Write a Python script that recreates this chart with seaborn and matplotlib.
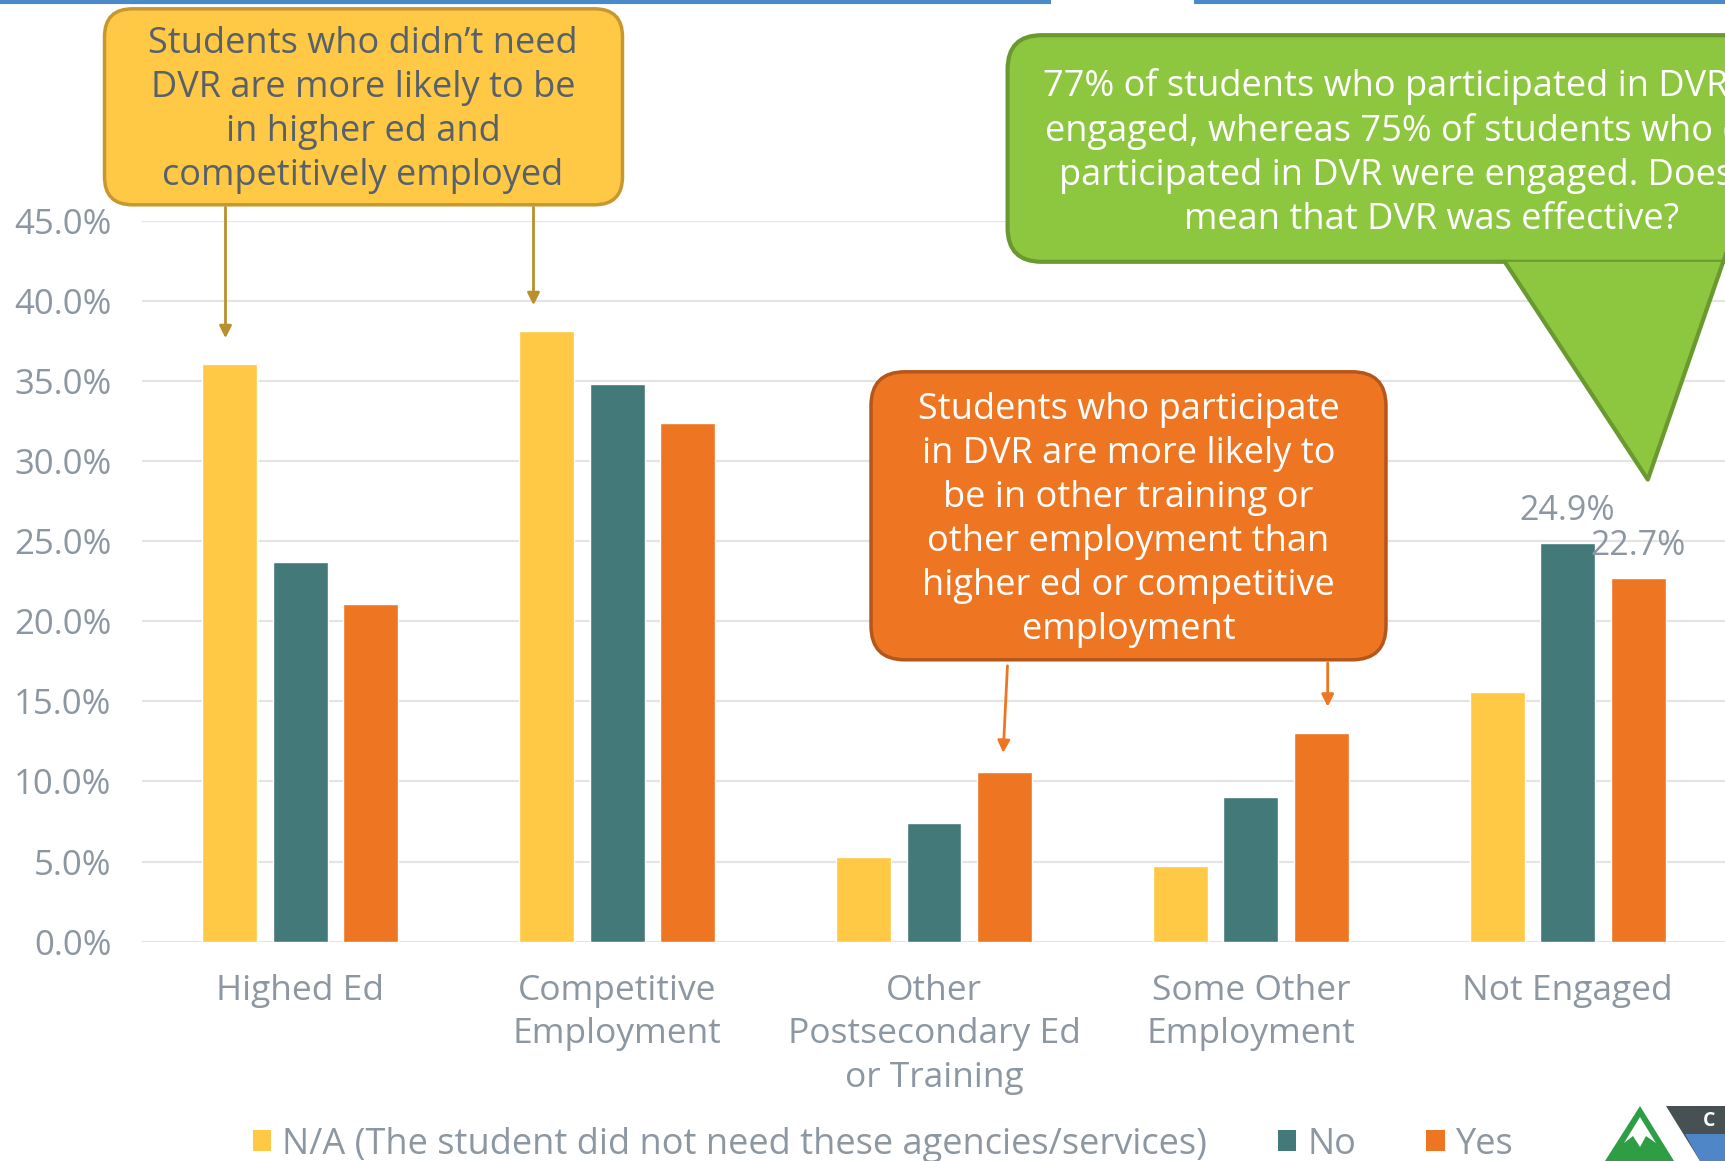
import matplotlib.pyplot as plt
import seaborn as sns
import pandas as pd
from matplotlib.patches import FancyBboxPatch, Polygon, Patch

# Share of students by post-school outcome, split by DVR participation
categories = ['Highed Ed', 'Competitive\nEmployment', 'Other\nPostsecondary Ed\nor Training',
              'Some Other\nEmployment', 'Not Engaged']
groups = ['N/A (The student did not need these agencies/services)', 'No', 'Yes']
na_vals = [36.1, 38.1, 5.3, 4.7, 15.6]
no_vals = [23.7, 34.8, 7.4, 9.0, 24.9]
yes_vals = [21.1, 32.4, 10.6, 13.0, 22.7]
yticks = [0, 5, 10, 15, 20, 25, 30, 35, 40, 45]

colors = ['#FFC845', '#44797A', '#EE7623']
grey = '#8C97A2'

rows = []
for g, vals in zip(groups, [na_vals, no_vals, yes_vals]):
    for c, v in zip(categories, vals):
        rows.append({'category': c, 'group': g, 'value': v})
df = pd.DataFrame(rows)

sns.set_style('white')
plt.rcParams['font.family'] = ['Open Sans', 'DejaVu Sans']

W, H = 1725, 1161
fig = plt.figure(figsize=(W / 100, H / 100), dpi=100)
ax = fig.add_axes([142 / W, (H - 941.6) / H, 1584 / W, (941.6 - 221) / H])

sns.barplot(data=df, x='category', y='value', hue='group', hue_order=groups,
            palette=colors, width=0.667, gap=0.22, saturation=1, legend=False, ax=ax)

ax.set_xlim(-0.5, 4.5)
ax.set_ylim(0, 45)
ax.set_yticks(yticks)
ax.set_yticklabels([f'{t:.1f}%' for t in yticks])
ax.yaxis.grid(True, color='#E4E4E4', lw=1.6)
ax.set_axisbelow(True)
for s in ax.spines.values():
    s.set_visible(False)
ax.tick_params(axis='y', length=0, pad=22, labelsize=25, labelcolor=grey)
ax.tick_params(axis='x', length=0, pad=23, labelsize=25.5, labelcolor=grey)
for lab in ax.get_xticklabels():
    lab.set_linespacing(1.38)
ax.set_xlabel('')
ax.set_ylabel('')

# value labels on the Not Engaged No / Yes bars
for gi in [1, 2]:
    bar = ax.containers[gi][4]
    h = bar.get_height()
    ax.annotate(f'{h:.1f}%', (bar.get_x() + bar.get_width() / 2, h),
                xytext=(0, 11), textcoords='offset points',
                ha='center', va='bottom', fontsize=24.5, color=grey)

# overlay in pixel coordinates for callouts
ov = fig.add_axes([0, 0, 1, 1], zorder=5)
ov.set_xlim(0, W)
ov.set_ylim(H, 0)
ov.axis('off')

ov.plot([0, 1051], [1.5, 1.5], color='#4A8AC8', lw=3, solid_capstyle='butt')
ov.plot([1194, W], [1.5, 1.5], color='#4A8AC8', lw=3, solid_capstyle='butt')

# yellow callout
ov.add_patch(FancyBboxPatch((104.5, 8.8), 518, 196, boxstyle='round,pad=0,rounding_size=28',
                            fc='#FFC845', ec='#C6982F', lw=2.5))
ov.text(363, 110, "Students who didn’t need\nDVR are more likely to be\nin higher ed and\ncompetitively employed",
        ha='center', va='center', fontsize=26, color='#56616C', linespacing=1.3)
for x0, y1 in [(225.5, 341), (533.5, 308)]:
    ov.annotate('', xy=(x0, y1), xytext=(x0, 204.6),
                arrowprops=dict(arrowstyle='-|>', color='#B8912E', lw=2, mutation_scale=18))

# green speech bubble
ov.add_patch(FancyBboxPatch((1007.6, 35.2), 900, 226.6, boxstyle='round,pad=0,rounding_size=34',
                            fc='#8DC63F', ec='#6A9A2F', lw=3))
ov.add_patch(Polygon([(1504.8, 261.8), (1647.8, 479.6), (1748, 190), (1748, 261.8)],
                     closed=True, fc='#8DC63F', ec='none'))
ov.plot([1504.8, 1647.8, 1748], [261.8, 479.6, 190], color='#6A9A2F', lw=3)
ov.text(1432, 153, "77% of students who participated in DVR were\nengaged, whereas 75% of students who didn't\n"
        "participated in DVR were engaged. Does this\nmean that DVR was effective?",
        ha='center', va='center', fontsize=26, color='white', linespacing=1.3)

# orange callout
ov.add_patch(FancyBboxPatch((871, 371.8), 515, 288, boxstyle='round,pad=0,rounding_size=34',
                            fc='#EE7623', ec='#B5561A', lw=2.5))
ov.text(1128.6, 520, "Students who participate\nin DVR are more likely to\nbe in other training or\n"
        "other employment than\nhigher ed or competitive\nemployment",
        ha='center', va='center', fontsize=26, color='white', linespacing=1.3)
ov.annotate('', xy=(1003, 755.7), xytext=(1007.6, 663),
            arrowprops=dict(arrowstyle='-|>', color='#EE7623', lw=2, mutation_scale=18))
ov.annotate('', xy=(1327.7, 709.5), xytext=(1327.7, 660),
            arrowprops=dict(arrowstyle='-|>', color='#EE7623', lw=2, mutation_scale=18))

# logo fragment
ov.add_patch(Polygon([(1640, 1106), (1605, 1161), (1674, 1161)], fc='#2E9E44', ec='none'))
ov.add_patch(Polygon([(1640, 1117), (1624, 1143), (1633, 1136), (1640, 1147), (1646, 1136), (1656, 1143)],
                     fc='white', ec='none'))
ov.add_patch(Polygon([(1666, 1106), (W, 1106), (W, 1161), (1700, 1161)], fc='#475153', ec='none'))
ov.add_patch(Polygon([(1685, 1134), (W, 1134), (W, 1161), (1700, 1161)], fc='#4E86C8', ec='none'))
ov.text(1703, 1121, 'C', color='white', fontsize=14, fontweight='bold', ha='left', va='center')

handles = [Patch(facecolor=c, edgecolor='none') for c in colors]
fig.legend(handles, groups, loc='center', bbox_to_anchor=(0.512, 0.014), ncol=3, frameon=False,
           fontsize=26, labelcolor=grey, handlelength=0.52, handleheight=0.52, handletextpad=0.3,
           columnspacing=1.95)

fig.savefig('out.png', dpi=100)
